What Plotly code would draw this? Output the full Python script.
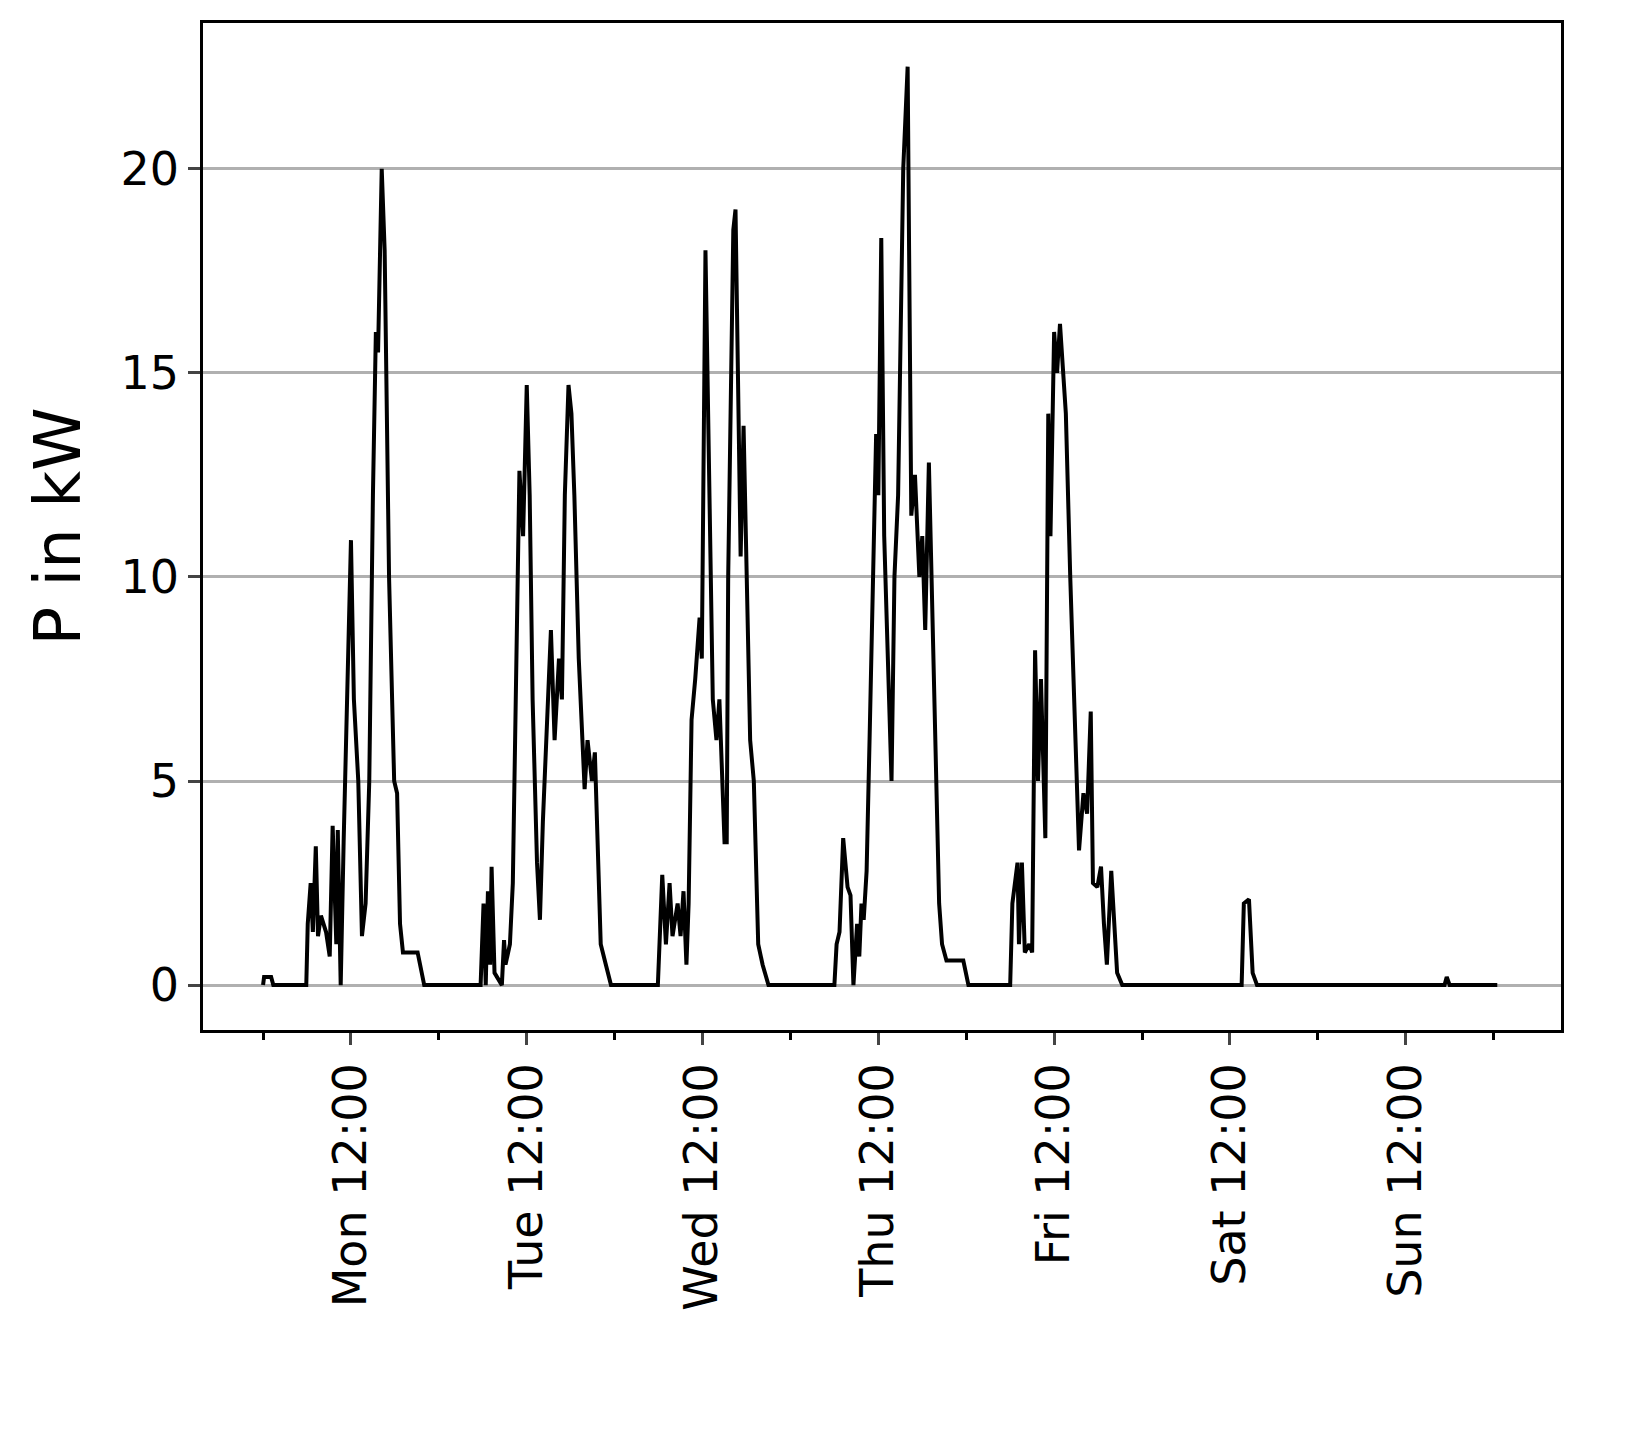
import plotly.graph_objects as go

hours = [0,0.14,1.1,1.4,5.9,6.1,6.5,6.8,7.2,7.5,7.9,8.6,9.1,9.5,10.0,10.2,10.6,11.0,12.0,12.4,13.0,13.5,14.0,14.5,15.0,15.4,15.7,16.2,16.6,17.2,17.9,18.3,18.7,19.1,21.1,22.0,29.7,
 30.1,30.4,30.7,31.0,31.2,31.6,32.6,32.9,33.1,33.7,34.1,34.5,35.0,35.5,36.0,36.4,36.8,37.4,37.8,38.2,38.7,39.3,39.8,40.4,40.8,41.2,41.7,42.1,42.5,43.1,43.6,43.9,44.3,44.9,45.3,45.7,46.1,46.8,47.5,53.9,
 54.1,54.5,55.0,55.5,55.9,56.6,57.0,57.4,57.8,58.1,58.5,59.0,59.6,59.9,60.4,60.8,61.4,61.9,62.3,63.0,63.3,63.5,64.2,64.5,64.8,65.2,65.6,66.0,66.5,67.0,67.6,68.2,69.0,78.0,
 78.3,78.7,79.2,79.8,80.2,80.6,81.1,81.4,81.7,82.0,82.4,82.8,83.2,83.7,84.0,84.4,84.8,85.2,85.8,86.2,86.7,87.4,88.0,88.2,88.5,89.0,89.6,90.0,90.4,90.9,91.4,91.8,92.3,92.7,93.3,95.6,96.3,102.0,
 102.3,103.0,103.2,103.6,104.0,104.6,105.0,105.4,105.8,106.2,106.8,107.2,107.5,108.0,108.4,108.8,109.6,110.2,110.9,111.4,112.0,112.5,113.0,113.3,113.9,114.4,114.8,115.2,115.8,116.2,116.6,117.3,133.6,
 133.9,134.6,135.1,135.7,161.3,161.6,162.0,168.5]
power_kw = [0,0.2,0.2,0,0,1.5,2.5,1.3,3.4,1.2,1.7,1.3,0.7,3.9,1.0,3.8,0,3.5,10.9,7,5,1.2,2,5,12,16,15.5,20,18,10,5,4.7,1.5,0.8,0.8,0,0,
 2,0,2.3,0.5,2.9,0.3,0,1.1,0.5,1,2.5,7,12.6,11,14.7,12,7,3,1.6,4,6,8.7,6,8,7,12,14.7,14,12,8,6,4.8,6,5,5.7,3,1,0.5,0,0,
 1,2.7,1,2.5,1.2,2,1.2,2.3,0.5,2,6.5,7.5,9,8,18,14,7,6,7,3.5,3.5,10,18.5,19,15,10.5,13.7,10,6,5,1,0.5,0,0,
 1,1.3,3.6,2.4,2.2,0,1.5,0.7,2,1.6,2.8,6,9,13.5,12,18.3,11,8.5,5,10,12,20,22.5,18,11.5,12.5,10,11,8.7,12.8,9,6,2,1,0.6,0.6,0,0,
 2,3,1,3,0.8,1,0.8,8.2,5,7.5,3.6,14,11,16,15,16.2,14,10,6,3.3,4.7,4.2,6.7,2.5,2.4,2.9,1.5,0.5,2.8,1.5,0.3,0,0,
 2,2.1,0.3,0,0,0.2,0,0]

tick_vals = [12,36,60,84,108,132,156]
tick_text = ["Mon 12:00","Tue 12:00","Wed 12:00","Thu 12:00","Fri 12:00","Sat 12:00","Sun 12:00"]
minor_vals = [0,24,48,72,96,120,144,168]

fig = go.Figure(go.Scatter(x=hours, y=power_kw, mode="lines", line=dict(color="black", width=4)))
fig.update_layout(
    width=1629, height=1438, margin=dict(l=195, r=76, t=12, b=416),
    plot_bgcolor="white", paper_bgcolor="white", showlegend=False,
    font=dict(family="DejaVu Sans", size=46, color="black"),
)
fig.update_xaxes(range=[-8.2, 177.2], tickvals=tick_vals, ticktext=tick_text, tickangle=-90,
                 ticks="outside", ticklen=12, tickwidth=2.5, showgrid=False, zeroline=False,
                 showline=True, linecolor="black", linewidth=2.5, mirror=True,
                 minor=dict(tickvals=minor_vals, ticks="outside", ticklen=7, tickwidth=2.5, tickcolor="black"))
fig.update_yaxes(range=[-1.1, 23.57], tickvals=[0,5,10,15,20], ticks="outside", ticklen=12, tickwidth=2.5,
                 showgrid=True, gridcolor="#b0b0b0", gridwidth=2.5, zeroline=False,
                 showline=True, linecolor="black", linewidth=2.5, mirror=True,
                 title=dict(text="P in kW", font=dict(size=64), standoff=20))
fig.write_html("out.html")
